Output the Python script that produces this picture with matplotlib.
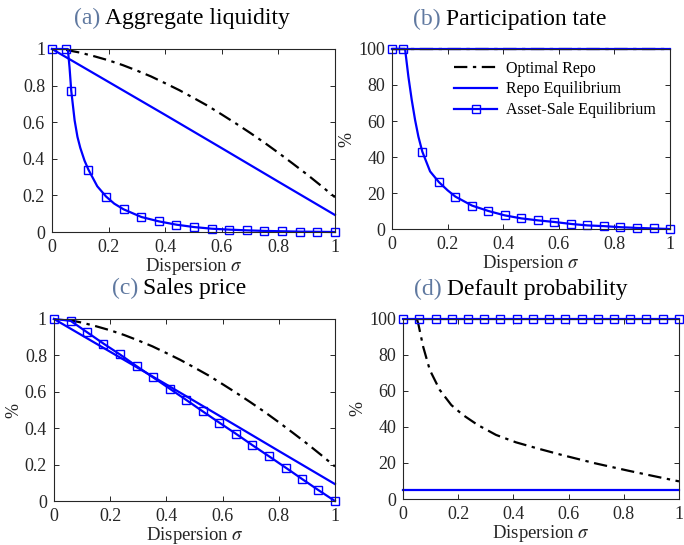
import numpy as np
import matplotlib
matplotlib.use("Agg")
import matplotlib.pyplot as plt

plt.rcParams['font.family'] = ['Liberation Serif', 'DejaVu Serif']
plt.rcParams['mathtext.fontset'] = 'stix'

# ---- data ----
# shared x positions of the markers in panels (c) and (d)
x_grid = [0, 0.059, 0.118, 0.176, 0.235, 0.294, 0.353, 0.412, 0.471, 0.529,
          0.588, 0.647, 0.706, 0.765, 0.824, 0.882, 0.941, 1.0]

# optimal repo, panels (a) and (c)
x_opt = [0.05, 0.1, 0.15, 0.2, 0.25, 0.3, 0.35, 0.4, 0.45, 0.5, 0.55, 0.6,
         0.65, 0.7, 0.75, 0.8, 0.85, 0.9, 0.95, 1.0]
y_opt = [0.995, 0.98, 0.96, 0.938, 0.912, 0.882, 0.85, 0.813, 0.775, 0.733,
         0.69, 0.642, 0.593, 0.542, 0.489, 0.433, 0.375, 0.316, 0.254, 0.19]

# repo equilibrium, panels (a) and (c)
x_repo = [0, 0.2, 0.4, 0.6, 0.8, 1.0]
y_repo = [1.0, 0.82, 0.64, 0.458, 0.275, 0.093]

# (a) aggregate liquidity, asset-sale equilibrium
x_sale_a = [0, 0.048, 0.056, 0.062, 0.068, 0.08, 0.09, 0.1, 0.115, 0.129, 0.16,
            0.191, 0.22, 0.253, 0.316, 0.378, 0.44, 0.502, 0.565, 0.627, 0.689,
            0.751, 0.813, 0.876, 0.938, 1.0]
y_sale_a = [1.0, 1.0, 1.0, 0.9, 0.773, 0.61, 0.52, 0.46, 0.39, 0.34, 0.25,
            0.194, 0.155, 0.124, 0.082, 0.058, 0.040, 0.027, 0.018, 0.013, 0.009,
            0.006, 0.004, 0.002, 0.001, 0.0]
mk_a = [0, 1, 4, 9, 11, 13, 14, 15, 16, 17, 18, 19, 20, 21, 22, 23, 24, 25]

# (b) participation rate
x_full = [0, 1.0]
y_full_b = [100, 100]
x_sale_b = [0, 0.038, 0.047, 0.059, 0.071, 0.083, 0.095, 0.109, 0.137, 0.169,
            0.2, 0.228, 0.288, 0.347, 0.405, 0.465, 0.525, 0.584, 0.645, 0.703,
            0.763, 0.822, 0.882, 0.941, 1.0]
y_sale_b = [100, 100, 100, 84.6, 71.7, 60.6, 51.3, 43.0, 32.0, 26.0,
            21.5, 18.0, 13.0, 10.0, 7.6, 5.9, 4.8, 3.9, 2.8, 2.0,
            1.6, 1.0, 0.6, 0.3, 0.0]
mk_b = [0, 1, 7, 9, 11, 12, 13, 14, 15, 16, 17, 18, 19, 20, 21, 22, 23, 24]

# (c) sales price, asset-sale equilibrium
y_sale_c = [1.0, 0.99, 0.927, 0.865, 0.805, 0.741, 0.679, 0.617, 0.555, 0.493,
            0.431, 0.37, 0.307, 0.246, 0.184, 0.122, 0.06, 0.0]

# (d) default probability
x_opt_d = [0.05, 0.055, 0.073, 0.097, 0.133, 0.175, 0.217, 0.271, 0.337, 0.409,
           0.487, 0.577, 0.697, 0.817, 0.9, 1.0]
y_opt_d = [100, 97.6, 84.6, 71.7, 60.6, 52.2, 46.7, 41.1, 35.6, 31.5,
           28.1, 24.4, 19.8, 15.7, 13.0, 9.8]
y_repo_d = [4.8, 4.8]
y_sale_d = [100] * len(x_grid)

ticks_x = [0, 0.2, 0.4, 0.6, 0.8, 1]
tick_lbl = ['0', '0.2', '0.4', '0.6', '0.8', '1']

blue = '#0000FF'
dark = '#262626'
tag_col = '#6079A0'

fig = plt.figure(figsize=(6.84, 5.45), dpi=100)
ax_a = fig.add_axes([0.076, 0.5743, 0.4137, 0.3358])
ax_b = fig.add_axes([0.5731, 0.5798, 0.4064, 0.3303])
ax_c = fig.add_axes([0.0789, 0.0807, 0.4108, 0.334])
ax_d = fig.add_axes([0.5892, 0.0844, 0.4035, 0.3303])

line_kw = dict(color=blue, lw=1.6, clip_on=False)
mark_kw = dict(marker='s', ms=5.5, mfc='none', mec=blue, mew=1.0)
opt_kw = dict(color='black', lw=1.6, ls=(0, (6, 2.5, 1.5, 2.5)), clip_on=False)


def style(ax, percent, tag, title, split, ylab):
    ax.set_xlim(0, 1)
    ax.set_xticks(ticks_x)
    ax.set_xticklabels(tick_lbl)
    if percent:
        ax.set_ylim(0, 100)
        ax.set_yticks([0, 20, 40, 60, 80, 100])
    else:
        ax.set_ylim(0, 1)
        ax.set_yticks(ticks_x)
        ax.set_yticklabels(tick_lbl)
    ax.tick_params(direction='in', top=True, right=True, length=3.5, width=0.7,
                   labelsize=13, colors=dark, pad=5)
    for s in ax.spines.values():
        s.set_color(dark)
        s.set_linewidth(0.8)
    ax.set_xlabel(r'Dispersion $\sigma$', fontsize=13.5, color=dark, labelpad=0)
    if ylab:
        ax.set_ylabel('%', fontsize=13, color=dark, labelpad=2)
    ax.text(split, 1.135, tag, transform=ax.transAxes, ha='right', va='baseline',
            fontsize=17, color=tag_col)
    ax.text(split + 0.018, 1.135, title, transform=ax.transAxes, ha='left',
            va='baseline', fontsize=17, color='black')


# (a)
ax_a.plot(x_opt, y_opt, **opt_kw)
ax_a.plot(x_repo, y_repo, **line_kw)
ax_a.plot(x_sale_a, y_sale_a, markevery=mk_a, **line_kw, **mark_kw)
style(ax_a, False, '(a)', 'Aggregate liquidity', 0.17, False)

# (b)
ax_b.plot(x_full, y_full_b, label='Optimal Repo', **opt_kw)
ax_b.plot(x_full, y_full_b, label='Repo Equilibrium', **line_kw)
ax_b.plot(x_sale_b, y_sale_b, markevery=mk_b, label='Asset-Sale Equilibrium',
          **line_kw, **mark_kw)
style(ax_b, True, '(b)', 'Participation tate', 0.176, True)
ax_b.legend(loc='upper left', bbox_to_anchor=(0.223, 0.935), frameon=False,
            fontsize=11.5, handlelength=2.7, handletextpad=0.55, labelspacing=0.3,
            borderaxespad=0, borderpad=0)

# (c)
ax_c.plot(x_opt, y_opt, **opt_kw)
ax_c.plot(x_repo, y_repo, **line_kw)
ax_c.plot(x_grid, y_sale_c, **line_kw, **mark_kw)
style(ax_c, False, '(c)', 'Sales price', 0.30, True)

# (d)
ax_d.plot(x_opt_d, y_opt_d, **opt_kw)
ax_d.plot(x_full, y_repo_d, **line_kw)
ax_d.plot(x_grid, y_sale_d, **line_kw, **mark_kw)
style(ax_d, True, '(d)', 'Default probability', 0.14, True)

fig.savefig('out.png', dpi=100)
